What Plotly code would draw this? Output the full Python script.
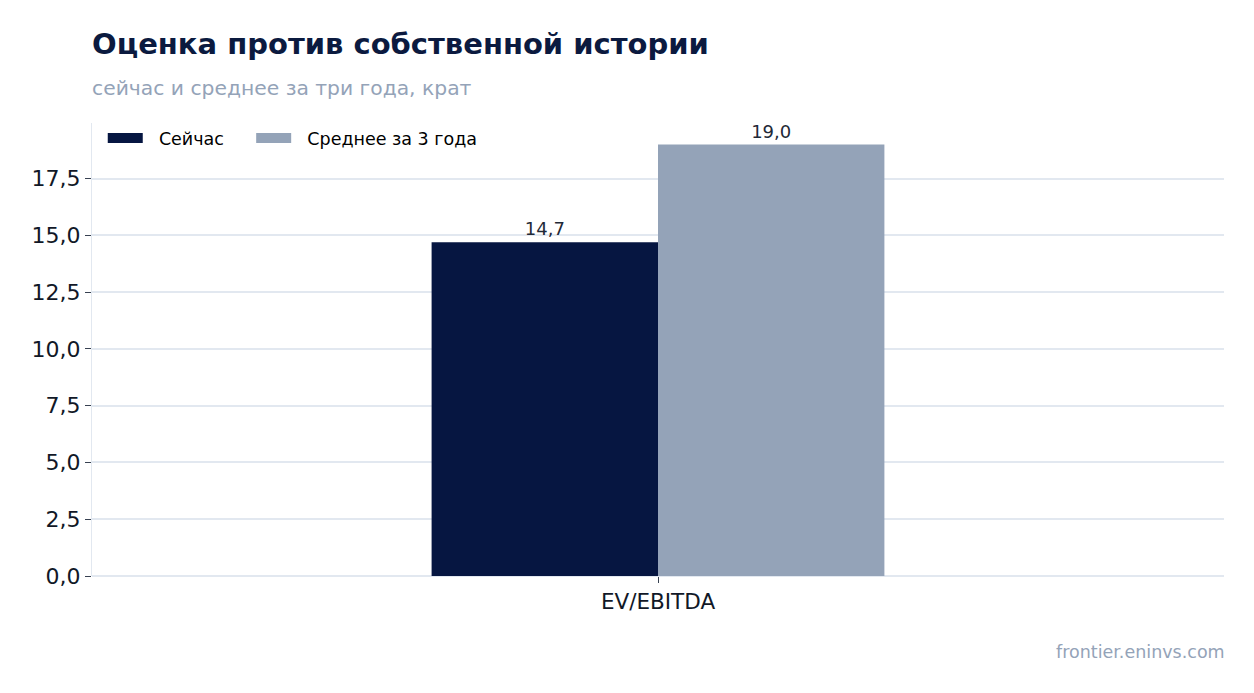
import plotly.graph_objects as go

# data
categories = ['EV/EBITDA']
series_names = ['Сейчас', 'Среднее за 3 года']
now_values = [14.7]
avg3y_values = [19.0]
y_ticks = [0, 2.5, 5, 7.5, 10, 12.5, 15, 17.5]

NAVY = '#061641'
SLATE = '#94a3b8'
FONT = 'DejaVu Sans'
NBSP = '\u00a0'

fig = go.Figure()
for name, vals, color in zip(series_names, [now_values, avg3y_values], [NAVY, SLATE]):
    fig.add_trace(go.Bar(x=categories, y=vals, name=name, marker_color=color,
                         marker_line_width=0, showlegend=False,
                         text=vals, texttemplate='%{y:.1f}', textposition='outside',
                         textfont=dict(size=18, color='#1f2937', family=FONT),
                         cliponaxis=False))
    # wide legend swatch, nbsp padding to space the entries like the original
    fig.add_trace(go.Scatter(x=[None], y=[None], mode='lines',
                             name=NBSP * 2 + name + NBSP * 4,
                             line=dict(color=color, width=12)))

fig.update_layout(
    width=1254, height=693,
    separators=', ',
    font=dict(family=FONT, color='#111827'),
    paper_bgcolor='white', plot_bgcolor='white',
    margin=dict(l=92, r=30, t=123, b=117),
    barmode='group', bargap=0.6, bargroupgap=0,
    title=dict(text='<b>Оценка против собственной истории</b>',
               x=92 / 1254, xanchor='left', y=1 - 44 / 693, yanchor='middle',
               font=dict(size=29, color='#0b1a3f', family=FONT)),
    legend=dict(orientation='h', x=0.0095, y=1 + 3 / 453, xanchor='left', yanchor='top',
                font=dict(size=17.5, color='#000000'), bgcolor='rgba(0,0,0,0)',
                itemwidth=35),
    annotations=[
        dict(text='сейчас и среднее за три года, крат', xref='paper', yref='paper',
             x=0, y=1 + 35 / 453, xanchor='left', yanchor='middle', showarrow=False,
             xshift=-2, font=dict(size=20.3, color=SLATE)),
        dict(text='frontier.eninvs.com', xref='paper', yref='paper',
             x=1, y=-76 / 453, xanchor='right', yanchor='middle', showarrow=False,
             xshift=3, font=dict(size=17.5, color=SLATE)),
    ],
)
fig.update_yaxes(range=[0, 19.95], tickvals=y_ticks, tickformat='.1f',
                 showgrid=True, gridcolor='#e2e8f0', gridwidth=1.5,
                 zeroline=True, zerolinecolor='#e2e8f0', zerolinewidth=2,
                 showline=True, linecolor='#e2e8f0', linewidth=1,
                 ticks='outside', ticklen=6, tickcolor='#374151',
                 tickfont=dict(size=22, color='#111827'))
fig.update_xaxes(ticks='outside', ticklen=6, tickcolor='#374151',
                 tickfont=dict(size=21.5, color='#111827'), showline=False)

fig.write_html('out.html', config={'displayModeBar': False},
               post_script="document.body.style.margin='0px';")
